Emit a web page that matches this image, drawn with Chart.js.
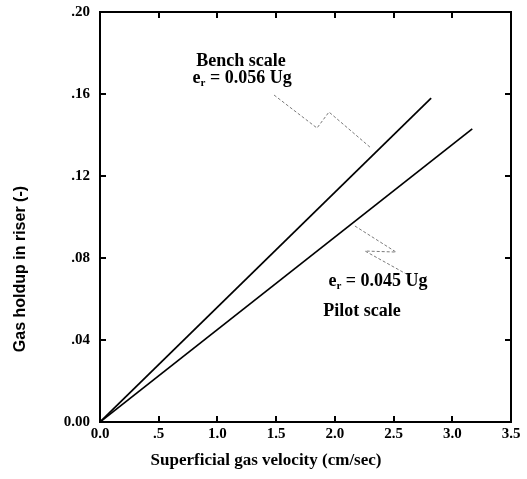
<!DOCTYPE html>
<html>
<head>
<meta charset="utf-8">
<title>Gas holdup in riser</title>
<script src="https://cdn.jsdelivr.net/npm/chart.js@4.4.1/dist/chart.umd.min.js"></script>
<style>
  html, body { margin: 0; padding: 0; background: #ffffff; }
  #holdup-chart { display: block; }
</style>
</head>
<body>
<canvas id="holdup-chart" width="527" height="479"></canvas>
<script>
// Correlation lines (superficial gas velocity in cm/sec vs. riser gas holdup)
const benchVelocity = [0, 2.82];
const benchHoldup = [0, 0.158];
const pilotVelocity = [0, 3.17];
const pilotHoldup = [0, 0.143];

const xTickLabels = ["0.0", ".5", "1.0", "1.5", "2.0", "2.5", "3.0", "3.5"];
const yTickLabels = ["0.00", ".04", ".08", ".12", ".16", ".20"];

// Leader lines from the labels to each correlation line
const benchLeaderX = [1.482, 1.848, 1.950, 2.299];
const benchLeaderY = [0.1595, 0.1434, 0.1512, 0.1341];
const pilotLeaderX = [2.171, 2.521, 2.257, 2.640];
const pilotLeaderY = [0.0956, 0.0829, 0.0834, 0.0712];

// Label text, anchored at data coordinates (centre of each line of text)
const noteText = ["Bench scale", "e|r| = 0.056 Ug", "e|r| = 0.045 Ug", "Pilot scale"];
const noteX = [1.20, 1.21, 2.367, 2.231];
const noteY = [0.1761, 0.1678, 0.0688, 0.0541];

const SERIF = "'Liberation Serif', 'Times New Roman', serif";
const SANS = "'Liberation Sans', Arial, sans-serif";

function toPoints(xs, ys) {
  return xs.map((x, i) => ({ x, y: ys[i] }));
}

// "e|r| = ..." -> base text with a subscript between the bars
function drawNote(ctx, text, cx, cy) {
  const parts = text.split("|");
  const mainFont = `bold 18px ${SERIF}`;
  const subFont = `bold 11px ${SERIF}`;
  const widths = parts.map((part, i) => {
    ctx.font = i % 2 === 1 ? subFont : mainFont;
    return ctx.measureText(part).width;
  });
  let x = cx - widths.reduce((sum, w) => sum + w, 0) / 2;
  parts.forEach((part, i) => {
    const isSub = i % 2 === 1;
    ctx.font = isSub ? subFont : mainFont;
    ctx.fillText(part, x, isSub ? cy + 5 : cy);
    x += widths[i];
  });
}

const framePlugin = {
  id: "frameAndNotes",
  afterDatasetsDraw(chart) {
    const { ctx, chartArea, scales } = chart;
    const { left, right, top, bottom } = chartArea;
    const tickSize = 6;

    ctx.save();
    ctx.strokeStyle = "#000000";
    ctx.lineWidth = 2;
    ctx.strokeRect(left, top, right - left, bottom - top);

    // inward ticks on all four sides
    ctx.beginPath();
    scales.x.ticks.forEach((tick) => {
      const px = Math.round(scales.x.getPixelForValue(tick.value));
      ctx.moveTo(px, bottom);
      ctx.lineTo(px, bottom - tickSize);
      ctx.moveTo(px, top);
      ctx.lineTo(px, top + tickSize);
    });
    scales.y.ticks.forEach((tick) => {
      const py = Math.round(scales.y.getPixelForValue(tick.value));
      ctx.moveTo(left, py);
      ctx.lineTo(left + tickSize, py);
      ctx.moveTo(right, py);
      ctx.lineTo(right - tickSize, py);
    });
    ctx.stroke();

    ctx.fillStyle = "#000000";
    ctx.textBaseline = "middle";
    ctx.textAlign = "left";
    noteText.forEach((text, i) => {
      drawNote(ctx, text, scales.x.getPixelForValue(noteX[i]), scales.y.getPixelForValue(noteY[i]));
    });

    // axis titles
    ctx.textAlign = "center";
    ctx.font = `bold 17px ${SERIF}`;
    ctx.fillText("Superficial gas velocity (cm/sec)", left + (right - left) * 0.404, bottom + 39);

    ctx.save();
    ctx.translate(21, top + (bottom - top) * 0.627);
    ctx.rotate(-Math.PI / 2);
    ctx.font = `bold 16px ${SANS}`;
    ctx.fillText("Gas holdup in riser (-)", 0, 0);
    ctx.restore();

    ctx.restore();
  }
};

const lineStyle = {
  showLine: true,
  borderColor: "#000000",
  borderWidth: 1.7,
  pointRadius: 0,
  fill: false,
  tension: 0
};

const leaderStyle = {
  showLine: true,
  borderColor: "#7a7a7a",
  borderWidth: 1,
  borderDash: [3, 2],
  pointRadius: 0,
  fill: false,
  tension: 0
};

new Chart(document.getElementById("holdup-chart"), {
  type: "scatter",
  data: {
    datasets: [
      { label: "Bench scale", data: toPoints(benchVelocity, benchHoldup), ...lineStyle },
      { label: "Pilot scale", data: toPoints(pilotVelocity, pilotHoldup), ...lineStyle },
      { label: "bench leader", data: toPoints(benchLeaderX, benchLeaderY), ...leaderStyle },
      { label: "pilot leader", data: toPoints(pilotLeaderX, pilotLeaderY), ...leaderStyle }
    ]
  },
  options: {
    responsive: false,
    animation: false,
    layout: {
      padding: { top: 12, right: 16, left: 0, bottom: 0 }
    },
    plugins: {
      legend: { display: false },
      tooltip: { enabled: false }
    },
    scales: {
      x: {
        type: "linear",
        min: 0,
        max: 3.5,
        afterFit(scale) {
          scale.height = 57;
          scale.paddingLeft = 0;
          scale.paddingRight = 0;
        },
        afterBuildTicks(scale) {
          scale.ticks = xTickLabels.map((label, i) => ({ value: i * 0.5 }));
        },
        ticks: {
          color: "#000000",
          padding: 3,
          maxRotation: 0,
          font: { family: SERIF, size: 15, weight: "bold" },
          callback(value, index) {
            return xTickLabels[index];
          }
        },
        grid: { display: false, drawTicks: false },
        border: { display: false }
      },
      y: {
        type: "linear",
        min: 0,
        max: 0.2,
        afterFit(scale) {
          scale.width = 100;
          scale.paddingTop = 0;
          scale.paddingBottom = 0;
        },
        afterBuildTicks(scale) {
          scale.ticks = yTickLabels.map((label, i) => ({ value: i * 0.04 }));
        },
        ticks: {
          color: "#000000",
          padding: 10,
          font: { family: SERIF, size: 15, weight: "bold" },
          callback(value, index) {
            return yTickLabels[index];
          }
        },
        grid: { display: false, drawTicks: false },
        border: { display: false }
      }
    }
  },
  plugins: [framePlugin]
});
</script>
</body>
</html>
